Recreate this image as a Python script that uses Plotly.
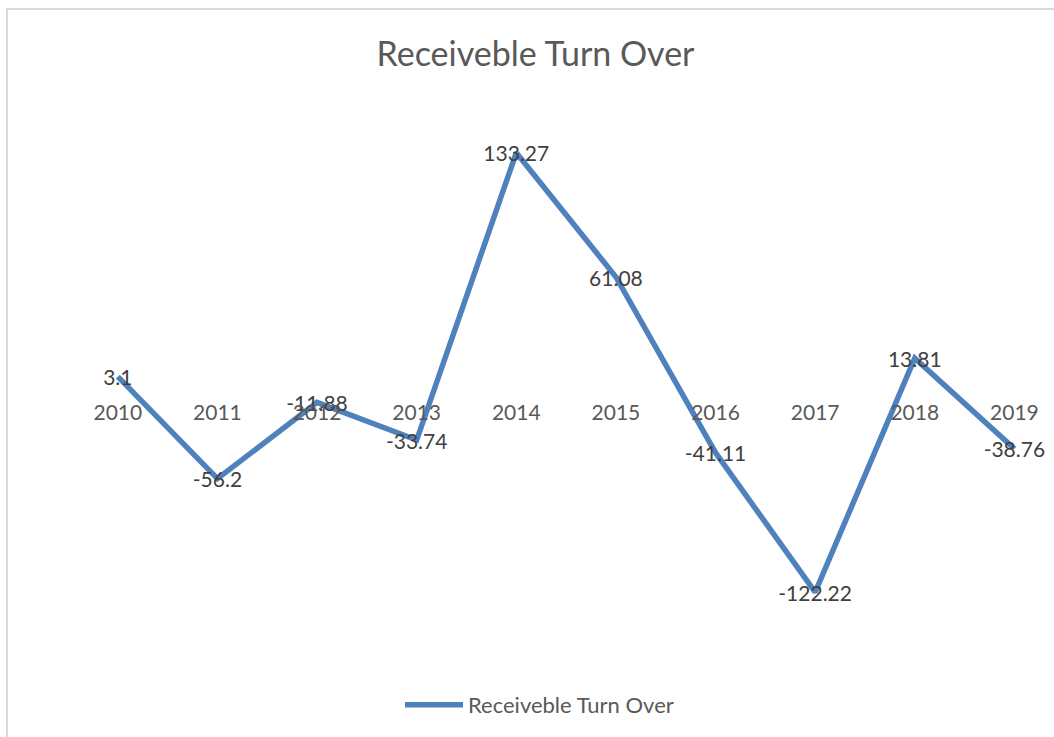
import plotly.graph_objects as go

years = ["2010", "2011", "2012", "2013", "2014", "2015", "2016", "2017", "2018", "2019"]
values = [3.1, -56.2, -11.88, -33.74, 133.27, 61.08, -41.11, -122.22, 13.81, -38.76]
labels = ["3.1", "-56.2", "-11.88", "-33.74", "133.27", "61.08", "-41.11", "-122.22", "13.81", "-38.76"]
series_name = "Receiveble Turn Over"
title_text = "Receiveble Turn Over"

FONT = "Lato"
W, H = 1054, 737
ML, MR, MT, MB = 68, 0, 124, 97
PW = W - ML - MR
PH = H - MT - MB
Y_RANGE = [-150, 150]
LABEL_SHIFT = 2.0  # data units: nudges the value labels a few pixels down

fig = go.Figure()
fig.add_trace(go.Scatter(
    x=years, y=values, mode="lines", name=series_name,
    line=dict(color="#4F81BD", width=5.5), showlegend=True,
    hoverinfo="skip",
))
fig.add_trace(go.Scatter(
    x=years, y=values, mode="text", text=labels, yaxis="y2",
    textposition="middle center",
    textfont=dict(family=FONT, size=21, color="#404040"),
    showlegend=False, hoverinfo="skip",
))

def px_to_paper_x(px):
    return (px - ML) / PW

def py_to_paper_y(py):
    return (H - MB - py) / PH

fig.add_shape(type="rect", xref="paper", yref="paper",
              x0=px_to_paper_x(7), x1=px_to_paper_x(1070),
              y0=py_to_paper_y(760), y1=py_to_paper_y(9),
              line=dict(color="#D9D9D9", width=2), fillcolor="rgba(0,0,0,0)",
              layer="below")

fig.update_layout(
    width=W, height=H,
    margin=dict(l=ML, r=MR, t=MT, b=MB, pad=0),
    paper_bgcolor="white", plot_bgcolor="white",
    title=dict(text=title_text, x=535.5 / W, xref="container", xanchor="center",
               y=1 - 54 / H, yref="container", yanchor="middle",
               font=dict(family=FONT, size=34, color="#595959")),
    xaxis=dict(type="category", range=[-0.5, (1054 - 118) / 99.6],
               anchor="free", position=0.5,
               showline=False, showgrid=False, zeroline=False,
               ticks="", ticklabelstandoff=16,
               tickfont=dict(family=FONT, size=21, color="#595959"),
               fixedrange=True),
    yaxis=dict(range=Y_RANGE, visible=False, showgrid=False, zeroline=False,
               fixedrange=True),
    yaxis2=dict(range=[Y_RANGE[0] + LABEL_SHIFT, Y_RANGE[1] + LABEL_SHIFT],
                overlaying="y", visible=False, showgrid=False, zeroline=False,
                fixedrange=True),
    legend=dict(orientation="h", x=px_to_paper_x(539.5), xanchor="center",
                y=py_to_paper_y(705), yanchor="middle",
                font=dict(family=FONT, size=22, color="#595959"),
                itemwidth=58, bgcolor="rgba(0,0,0,0)"),
    showlegend=True,
)

fig.write_html("out.html")
